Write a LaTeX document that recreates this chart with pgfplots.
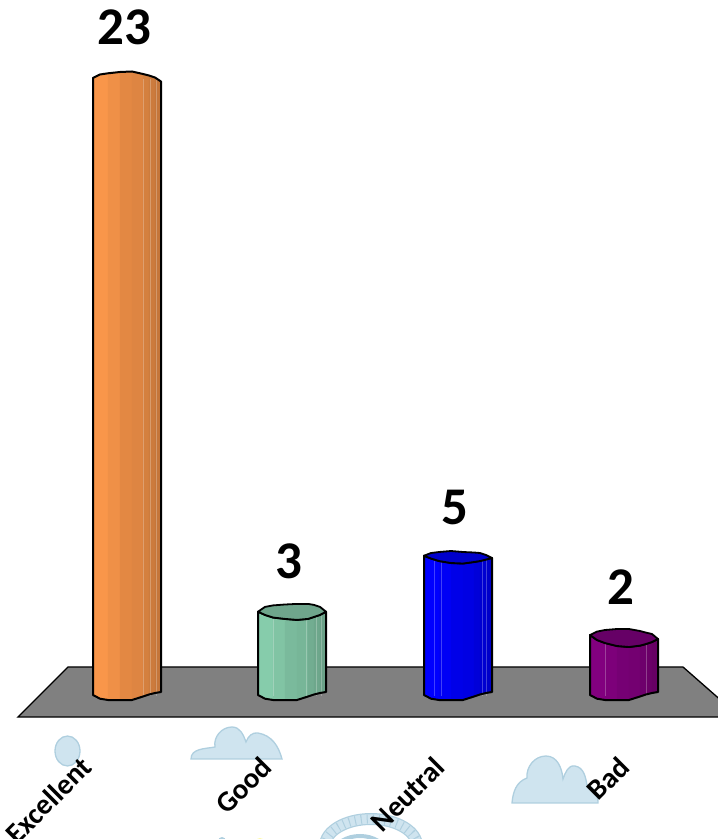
\documentclass[border=0pt]{standalone}
\usepackage{pgfplots}
\pgfplotsset{compat=1.18}
\usepackage{fontspec}
\setmainfont{Carlito}
\definecolor{skyfill}{HTML}{CFE4EF}
\definecolor{skyline}{HTML}{AFCFDF}
\definecolor{barorange}{HTML}{F9964A}
\definecolor{bargreen}{HTML}{86CCAB}
\definecolor{barblue}{HTML}{0000FF}
\definecolor{barpurple}{HTML}{82007F}
\definecolor{capgreen}{HTML}{6FA58C}
\definecolor{capblue}{HTML}{0000CC}
\definecolor{cappurple}{HTML}{660066}

% Contours of one cylinder, in pixels from the left edge and from the top / base line
\def\bandx{{0,7,15,27,39,50,56,62,68}}
\def\basey{{2,5.7,7,7,7,3.5,1.5,0,-1}}
\def\bandshade{{100,100,96,91,89,85,82,79}}
\def\pxperunit{26.7}

% \cylbody{left}{value}{colour}{top contour}{seams}: shaded bands, light seams and outline
\newcommand{\cylbody}[5]{%
  \def\topy{#4}%
  \foreach \i in {0,...,7}{%
    \pgfmathtruncatemacro\j{\i+1}%
    \pgfmathsetmacro\xa{#1+\bandx[\i]}%
    \pgfmathsetmacro\xb{#1+\bandx[\j]}%
    \pgfmathsetmacro\ya{#2-(\topy[\i])/\pxperunit}%
    \pgfmathsetmacro\yb{#2-(\topy[\j])/\pxperunit}%
    \pgfmathsetmacro\za{-(\basey[\i])/\pxperunit}%
    \pgfmathsetmacro\zb{-(\basey[\j])/\pxperunit}%
    \pgfmathtruncatemacro\sh{\bandshade[\i]}%
    \edef\temp{\noexpand\addplot[fill=#3!\sh!black, draw=#3!\sh!black, line width=0.2pt, forget plot]
      coordinates {(\xa,\ya) (\xb,\yb) (\xb,\zb) (\xa,\za)} -- cycle;}%
    \temp
  }%
  \foreach \k in {#5}{%
    \pgfmathsetmacro\xa{#1+\k}%
    \pgfmathsetmacro\ya{#2}%
    \edef\temp{\noexpand\addplot[white, opacity=0.25, line width=0.5pt, forget plot]
      coordinates {(\xa,\ya) (\xa,-0.1)};}%
    \temp
  }%
  \gdef\pts{}%
  \foreach \i in {0,...,8}{%
    \pgfmathsetmacro\xa{#1+\bandx[\i]}%
    \pgfmathsetmacro\ya{#2-(\topy[\i])/\pxperunit}%
    \xdef\pts{\pts (\xa,\ya)}%
  }%
  \foreach \i in {8,7,...,0}{%
    \pgfmathsetmacro\xa{#1+\bandx[\i]}%
    \pgfmathsetmacro\za{-(\basey[\i])/\pxperunit}%
    \xdef\pts{\pts (\xa,\za)}%
  }%
  \edef\temp{\noexpand\addplot[draw=black, line width=2pt, line join=round, forget plot]
    coordinates {\pts} -- cycle;}%
  \temp
}
% \cylcap{left}{value}{colour}{front contour}{back contour}
\newcommand{\cylcap}[5]{%
  \def\fronty{#4}\def\backy{#5}%
  \gdef\pts{}%
  \foreach \i in {0,...,8}{%
    \pgfmathsetmacro\xa{#1+\bandx[\i]}%
    \pgfmathsetmacro\ya{#2-(\fronty[\i])/\pxperunit}%
    \xdef\pts{\pts (\xa,\ya)}%
  }%
  \foreach \i in {8,7,...,0}{%
    \pgfmathsetmacro\xa{#1+\bandx[\i]}%
    \pgfmathsetmacro\ya{#2-(\backy[\i])/\pxperunit}%
    \xdef\pts{\pts (\xa,\ya)}%
  }%
  \edef\temp{\noexpand\addplot[fill=#3, draw=black, line width=1.8pt, line join=round, forget plot]
    coordinates {\pts} -- cycle;}%
  \temp
}

\begin{document}
\begin{tikzpicture}
\clip (0,0) rectangle (718pt,839pt);

% Pale cloud artwork behind the category names
\begin{scope}[x=1pt,y=-1pt,yshift=839pt,fill=skyfill,draw=skyline,line width=1.3pt]
  \filldraw (67.5,751) ellipse [x radius=12.5, y radius=15];
  \filldraw (191,759) to[out=90,in=190] (215,747) to[out=100,in=180] (232,727)
     to[out=0,in=110] (246,742) to[out=70,in=170] (258,733) to[out=-10,in=105] (282,759) -- cycle;
  \filldraw (512,803) to[out=85,in=200] (527,778) to[out=95,in=180] (546,756)
     to[out=0,in=95] (563,779) to[out=70,in=170] (575,766) to[out=-10,in=100] (587,785)
     to[out=-20,in=90] (598,803) -- cycle;
  \draw[line width=12pt,skyline] (325,846) arc[start angle=180,end angle=360,x radius=46,y radius=27];
  \draw[line width=9.5pt,skyfill] (325,846) arc[start angle=180,end angle=360,x radius=46,y radius=27];
  \draw[line width=9pt,skyline,dash pattern=on 1pt off 5pt] (325,846) arc[start angle=180,end angle=360,x radius=46,y radius=27];
  \draw[line width=4pt,skyline] (335,852) arc[start angle=180,end angle=360,x radius=25,y radius=16];
  \fill[skyline] (222,841) ellipse [x radius=4, y radius=4];
  \fill[yellow!30] (260,841) ellipse [x radius=4, y radius=3];
\end{scope}

\begin{axis}[
  at={(0,0)}, anchor=south west,
  scale only axis, width=718pt, height=839pt,
  xmin=0, xmax=718, ymin=-5.468, ymax=25.955,
  clip=false,
  axis line style={draw=none},
  major tick length=0pt,
  ytick=\empty,
  xtick={92,272,445,630},
  xticklabels={Excellent,Good,Neutral,Bad},
  x tick label style={rotate=45, anchor=east, font=\fontsize{29}{29}\selectfont\bfseries, xshift=54pt, yshift=58.5pt},
]
% Floor under the bars
\addplot[fill=black!50, draw=black, line width=1.3pt, forget plot]
  coordinates {(18,-0.899) (68,0.974) (683,0.974) (740,-0.899)} -- cycle;

% Excellent, Good, Neutral, Bad
\cylbody{93}{23}{barorange}{{-1,-4.4,-5.6,-6.9,-7.4,-4.9,-3.4,-1.4,2.6}}{50,57,63}
\cylbody{258}{3}{bargreen}{{-1.2,2,4.6,6,7,6,4,2,-1.2}}{15,48,58,63}
\cylcap{258}{3}{capgreen}{{-1.2,2,4.6,6,7,6,4,2,-1.2}}{{-1.2,-6,-7.5,-8.4,-9,-9,-8,-6,-1.2}}
\cylbody{424}{5}{barblue}{{-3.8,-1,1.5,3.5,4,2.5,1.5,0,-1.5}}{10,17,58,62}
\cylcap{424}{5}{capblue}{{-3.8,-1,1.5,3.5,4,2.5,1.5,0,-1.5}}{{-3.8,-6.5,-7.5,-8.5,-7.5,-7,-6.5,-4.5,-1.5}}
\cylbody{590}{2}{barpurple}{{-4.6,0.4,3.4,6.4,7.4,6,4.4,2.4,-0.6}}{15,56}
\cylcap{590}{2}{cappurple}{{-4.6,0.4,3.4,6.4,7.4,6,4.4,2.4,-0.6}}{{-4.6,-8,-9.6,-10.6,-10.6,-8.6,-7,-5.6,-0.6}}

% Values printed above the bars
\addplot[draw=none, mark=none, forget plot, point meta=explicit symbolic,
  nodes near coords,
  every node near coord/.style={anchor=center, xshift=-3pt, yshift=52pt,
    font=\fontsize{53}{53}\selectfont\bfseries, text=black}]
  coordinates {(127,23) [23] (292,3) [3] (458,5) [5] (624,2) [2]};
\end{axis}
\end{tikzpicture}
\end{document}
